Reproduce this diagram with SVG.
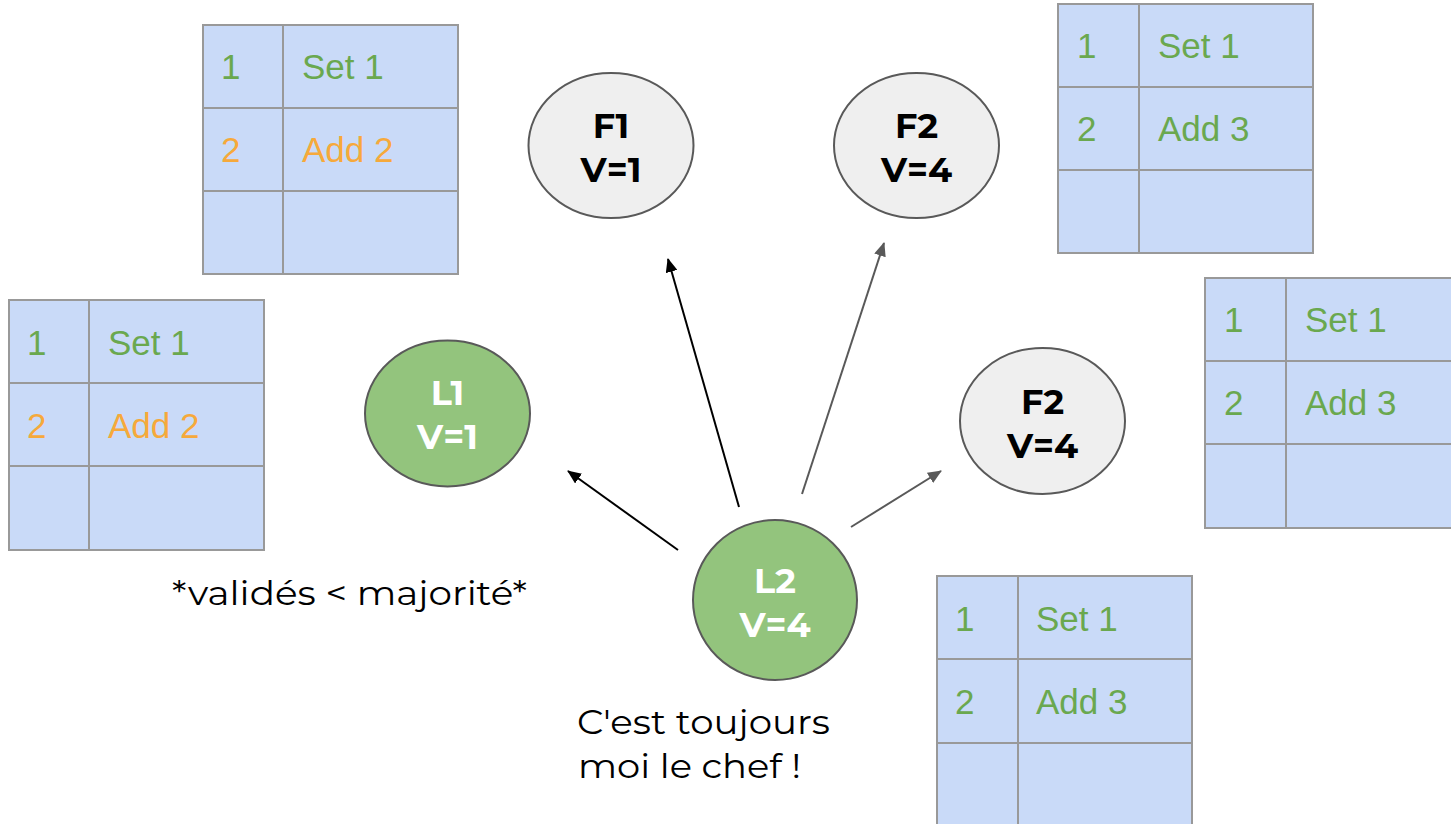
<svg xmlns="http://www.w3.org/2000/svg" width="1451" height="824" viewBox="0 0 1451 824">
<defs>
<style>
.cell{fill:#c9daf8;stroke:#999999;stroke-width:2}
.tg{fill:#6aa84f;font-family:"Liberation Sans",Arial,sans-serif;font-size:35px}
.to{fill:#f6a93b;font-family:"Liberation Sans",Arial,sans-serif;font-size:35px}
.ng{fill:#efefef;stroke:#595959;stroke-width:2}
.nl{fill:#93c47d;stroke:#595959;stroke-width:2}
.lb{font-family:Montserrat,Lato,"DejaVu Sans",sans-serif;font-weight:bold;font-size:35px;text-anchor:middle}
.note{font-family:Montserrat,"DejaVu Sans",sans-serif;font-size:34px;fill:#000}
.ab{stroke:#000;stroke-width:2;fill:none}
.ag{stroke:#595959;stroke-width:2;fill:none}
</style>
<marker id="mb" markerUnits="userSpaceOnUse" markerWidth="14" markerHeight="12" refX="13" refY="6" orient="auto">
<path d="M0,0 L14,6 L0,12 Z" fill="#000"/>
</marker>
<marker id="mg" markerUnits="userSpaceOnUse" markerWidth="14" markerHeight="12" refX="13" refY="6" orient="auto">
<path d="M0,0 L14,6 L0,12 Z" fill="#595959"/>
</marker>
</defs>
<rect width="1451" height="824" fill="#fff"/>

<g id="table-top-left">
<rect class="cell" x="203" y="25" width="80" height="83"/>
<rect class="cell" x="283" y="25" width="175" height="83"/>
<rect class="cell" x="203" y="108" width="80" height="83"/>
<rect class="cell" x="283" y="108" width="175" height="83"/>
<rect class="cell" x="203" y="191" width="80" height="83"/>
<rect class="cell" x="283" y="191" width="175" height="83"/>
<text class="tg" x="221" y="79">1</text>
<text class="tg" x="302" y="79">Set 1</text>
<text class="to" x="221" y="162">2</text>
<text class="to" x="302" y="162">Add 2</text>
</g>

<g id="table-left">
<rect class="cell" x="9" y="300" width="80" height="83"/>
<rect class="cell" x="89" y="300" width="175" height="83"/>
<rect class="cell" x="9" y="383" width="80" height="83"/>
<rect class="cell" x="89" y="383" width="175" height="83"/>
<rect class="cell" x="9" y="466" width="80" height="84"/>
<rect class="cell" x="89" y="466" width="175" height="84"/>
<text class="tg" x="27" y="355">1</text>
<text class="tg" x="108" y="355">Set 1</text>
<text class="to" x="27" y="438">2</text>
<text class="to" x="108" y="438">Add 2</text>
</g>

<g id="table-top-right">
<rect class="cell" x="1058" y="4" width="81" height="83"/>
<rect class="cell" x="1139" y="4" width="174" height="83"/>
<rect class="cell" x="1058" y="87" width="81" height="83"/>
<rect class="cell" x="1139" y="87" width="174" height="83"/>
<rect class="cell" x="1058" y="170" width="81" height="83"/>
<rect class="cell" x="1139" y="170" width="174" height="83"/>
<text class="tg" x="1077" y="58">1</text>
<text class="tg" x="1158" y="58">Set 1</text>
<text class="tg" x="1077" y="141">2</text>
<text class="tg" x="1158" y="141">Add 3</text>
</g>

<g id="table-right">
<rect class="cell" x="1205" y="278" width="81" height="83"/>
<rect class="cell" x="1286" y="278" width="180" height="83"/>
<rect class="cell" x="1205" y="361" width="81" height="83"/>
<rect class="cell" x="1286" y="361" width="180" height="83"/>
<rect class="cell" x="1205" y="444" width="81" height="84"/>
<rect class="cell" x="1286" y="444" width="180" height="84"/>
<text class="tg" x="1224" y="332">1</text>
<text class="tg" x="1305" y="332">Set 1</text>
<text class="tg" x="1224" y="415">2</text>
<text class="tg" x="1305" y="415">Add 3</text>
</g>

<g id="table-bottom">
<rect class="cell" x="937" y="576" width="81" height="83"/>
<rect class="cell" x="1018" y="576" width="174" height="83"/>
<rect class="cell" x="937" y="659" width="81" height="84"/>
<rect class="cell" x="1018" y="659" width="174" height="84"/>
<rect class="cell" x="937" y="743" width="81" height="90"/>
<rect class="cell" x="1018" y="743" width="174" height="90"/>
<text class="tg" x="955" y="631">1</text>
<text class="tg" x="1036" y="631">Set 1</text>
<text class="tg" x="955" y="714">2</text>
<text class="tg" x="1036" y="714">Add 3</text>
</g>

<g id="connectors">
<line class="ab" x1="678" y1="550" x2="568" y2="471" marker-end="url(#mb)"/>
<line class="ab" x1="739" y1="507" x2="668" y2="259" marker-end="url(#mb)"/>
<line class="ag" x1="802" y1="494" x2="884" y2="243" marker-end="url(#mg)"/>
<line class="ag" x1="851" y1="527" x2="941" y2="471" marker-end="url(#mg)"/>
</g>

<g id="node-F1">
<ellipse class="ng" cx="611" cy="145.5" rx="82.5" ry="72.5"/>
<text class="lb" x="611" y="138" fill="#000">F1</text>
<text class="lb" x="611" y="182" fill="#000">V=1</text>
</g>

<g id="node-F2-top">
<ellipse class="ng" cx="916.5" cy="145.5" rx="82.5" ry="72.5"/>
<text class="lb" x="916.5" y="138" fill="#000">F2</text>
<text class="lb" x="916.5" y="182" fill="#000">V=4</text>
</g>

<g id="node-F2-right">
<ellipse class="ng" cx="1042.5" cy="421" rx="82.5" ry="73"/>
<text class="lb" x="1042.5" y="414" fill="#000">F2</text>
<text class="lb" x="1042.5" y="458" fill="#000">V=4</text>
</g>

<g id="node-L1">
<ellipse class="nl" cx="447.5" cy="413.5" rx="82.5" ry="73"/>
<text class="lb" x="447.5" y="405" fill="#fff">L1</text>
<text class="lb" x="447.5" y="449" fill="#fff">V=1</text>
</g>

<g id="node-L2">
<ellipse class="nl" cx="775" cy="600" rx="82" ry="80"/>
<text class="lb" x="775" y="593" fill="#fff">L2</text>
<text class="lb" x="775" y="637" fill="#fff">V=4</text>
</g>

<text class="note" x="172" y="605" textLength="355" lengthAdjust="spacingAndGlyphs">*validés &lt; majorité*</text>
<text class="note" x="577" y="734" textLength="253" lengthAdjust="spacingAndGlyphs">C'est toujours</text>
<text class="note" x="578" y="778" textLength="223" lengthAdjust="spacingAndGlyphs">moi le chef !</text>
</svg>
